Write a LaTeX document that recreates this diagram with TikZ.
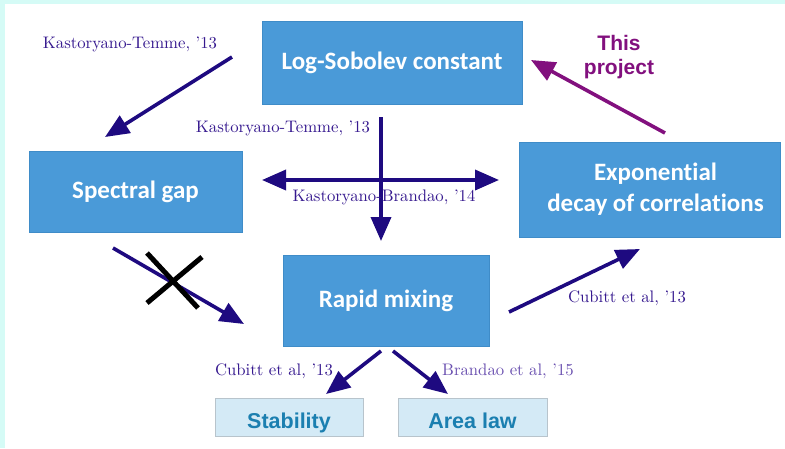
\documentclass[tikz,border=0pt]{standalone}
\usepackage{fontspec}
\newfontfamily\boxfont{Carlito}[Ligatures={NoCommon}]
\newfontfamily\arialfont{Liberation Sans}
\newfontfamily\labfont{lmroman10-regular}[Extension=.otf]
\usetikzlibrary{arrows.meta}
\definecolor{bg}{HTML}{D5FBF6}
\definecolor{boxblue}{HTML}{4A9AD8}
\definecolor{boxedge}{HTML}{3F8CC8}
\definecolor{lightbox}{HTML}{D4EAF6}
\definecolor{lightedge}{HTML}{B8C4CC}
\definecolor{darktxt}{HTML}{1B7FB0}
\definecolor{arr}{HTML}{1E0A80}
\definecolor{lab}{HTML}{36198F}
\definecolor{lablight}{HTML}{6A50B0}
\definecolor{proj}{HTML}{82107E}
\tikzset{
  bigbox/.style={draw=boxedge, line width=0.8pt, fill=boxblue, text=white, font=\boxfont\bfseries\fontsize{25}{31}\selectfont, align=center, inner sep=0pt},
  smallbox/.style={draw=lightedge, line width=1pt, fill=lightbox, text=darktxt, font=\arialfont\bfseries\fontsize{21.5}{26}\selectfont, inner sep=0pt, text height=22pt, text depth=0pt},
  reflab/.style={text=lab, font=\labfont\fontsize{16.7}{20}\selectfont, inner sep=0pt},
  conn/.style={draw=arr, line width=3.6pt, -{Triangle[length=24pt,width=20pt]}},
}
\begin{document}
\begin{tikzpicture}[x=1pt,y=-1pt]
\fill[bg] (0,0) rectangle (785,448);
\fill[white] (5,4) rectangle (785,448);
\useasboundingbox (0,0) rectangle (785,448);

\node[bigbox, minimum width=260pt, minimum height=83pt] (LS) at (392,62.5) {Log-Sobolev constant};
\node[bigbox, minimum width=213pt, minimum height=81pt] (SG) at (135.5,191.5) {Spectral gap};
\node[bigbox, minimum width=261pt, minimum height=95pt] (ED) at (649.5,189.5) {\hspace*{12pt}Exponential\\\hspace*{12pt}decay of correlations};
\node[bigbox, minimum width=206pt, minimum height=91pt] (RM) at (386,300.5) {Rapid mixing};
\node[smallbox, minimum width=148pt, minimum height=38pt] (ST) at (289,417) {Stability};
\node[smallbox, minimum width=149pt, minimum height=38pt] (AL) at (472.5,417) {Area law};

% free ends of connectors
\coordinate (a1s) at (232,57);  \coordinate (a1e) at (105,137);
\coordinate (a2s) at (381,117); \coordinate (a2e) at (381,241);
\coordinate (a3s) at (262,180); \coordinate (a3e) at (499,180);
\coordinate (a4s) at (665,133); \coordinate (a4e) at (531,60);
\coordinate (a5s) at (113,248); \coordinate (a5e) at (244,324);
\coordinate (a6s) at (509,312); \coordinate (a6e) at (640,249);
\coordinate (a7s) at (381,351); \coordinate (a7e) at (326,394);
\coordinate (a8s) at (393,351); \coordinate (a8e) at (448,394);

\draw[conn] (a1s) -- (a1e);
\draw[conn] (a2s) -- (a2e);
\draw[draw=arr, line width=3.6pt, {Triangle[length=24pt,width=20pt]}-{Triangle[length=24pt,width=20pt]}] (a3s) -- (a3e);
\draw[conn, draw=proj] (a4s) -- (a4e);
\draw[conn] (a5s) -- (a5e);
\draw[conn] (a6s) -- (a6e);
\draw[conn] (a7s) -- (a7e);
\draw[conn] (a8s) -- (a8e);

% cross
\coordinate (x1) at (147,253); \coordinate (x2) at (198,308);
\coordinate (x3) at (202,257); \coordinate (x4) at (147,303);
\draw[black, line width=5pt] (x1) -- (x2);
\draw[black, line width=5pt] (x3) -- (x4);

\node[reflab] (l1) at (130,44) {Kastoryano-Temme, ’13};
\node[reflab] (l2) at (283,128) {Kastoryano-Temme, ’13};
\node[reflab] (l3) at (384,197) {Kastoryano-Brandao, ’14};
\node[reflab] (l4) at (627,298) {Cubitt et al, ’13};
\node[reflab] (l5) at (274,371) {Cubitt et al, ’13};
\node[reflab, text=lablight] (l6) at (508,371) {Brandao et al, ’15};
\node[text=proj, font=\arialfont\bfseries\fontsize{21}{24}\selectfont, align=center, inner sep=0pt] (tp) at (619,57) {This\\project};
\end{tikzpicture}
\end{document}
